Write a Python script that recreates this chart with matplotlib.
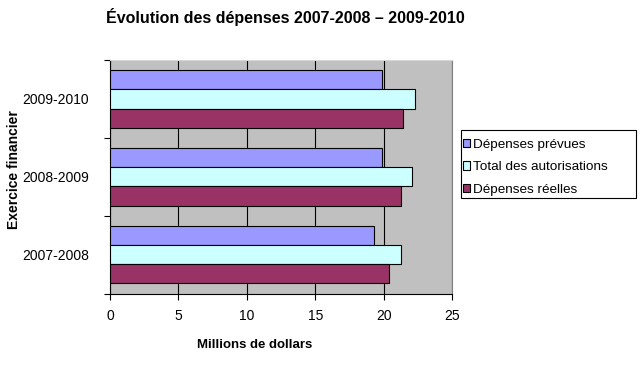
import matplotlib
matplotlib.use("Agg")
import matplotlib.pyplot as plt
from matplotlib.patches import Rectangle
import numpy as np

plt.rcParams['font.family'] = ['Liberation Sans', 'DejaVu Sans']

categories = ["2007-2008", "2008-2009", "2009-2010"]
series_names = ["Dépenses prévues", "Total des autorisations", "Dépenses réelles"]
prevues = [19.3, 19.9, 19.9]
total = [21.3, 22.1, 22.3]
reelles = [20.4, 21.3, 21.4]
colors = ["#9999FF", "#CCFFFF", "#993366"]
x_ticks = [0, 5, 10, 15, 20, 25]

fig = plt.figure(figsize=(6.4, 3.65), dpi=100)
ax = fig.add_axes([110/640, 1-293.5/365, (452-110)/640, (293.5-60)/365])
ax.set_facecolor("#C0C0C0")

y = np.arange(len(categories))
h = 0.247
for i, (vals, c, name) in enumerate(zip([prevues, total, reelles], colors, series_names)):
    offset = (1 - i) * h
    ax.barh(y + offset, vals, height=h, color=c, edgecolor="black", linewidth=0.8,
            label=name, zorder=3)

ax.set_xlim(0, 25)
ax.set_ylim(-0.5, 2.5)
ax.set_xticks(x_ticks)
ax.set_yticks(y)
ax.set_yticklabels(categories, fontsize=10)
ax.set_yticks([-0.5, 0.5, 1.5, 2.5], minor=True)
ax.tick_params(axis='y', which='major', length=0, pad=15)
ax.tick_params(axis='y', which='minor', length=4, direction='out', width=0.8)
ax.tick_params(axis='x', length=4, direction='out', labelsize=10, width=0.8, pad=7)
ax.xaxis.grid(True, color="black", linewidth=0.8, zorder=1)
ax.set_axisbelow(True)

ax.spines['left'].set_color('black')
ax.spines['bottom'].set_color('black')
ax.spines['top'].set_color('#D8D8D8')
ax.spines['right'].set_color('#808080')
for s in ax.spines.values():
    s.set_linewidth(0.8)

fig.text(255/640, 1-345/365, "Millions de dollars", ha='center', va='center',
         fontsize=9.5, fontweight='bold')
fig.text(14/640, 1-170/365, "Exercice financier", ha='center', va='center',
         rotation=90, fontsize=10, fontweight='bold')

fig.text(285/640, 1-17/365, "Évolution des dépenses 2007-2008 – 2009-2010",
         ha='center', va='center', fontsize=11.5, fontweight='bold')

# legend frame
fig.patches.append(Rectangle((461/640, 1-198/365), (636-461)/640, (198-130)/365,
                             transform=fig.transFigure, facecolor='white',
                             edgecolor='black', linewidth=0.8, zorder=0))

handles, labels = ax.get_legend_handles_labels()
leg = fig.legend(handles, labels, loc='upper left', bbox_to_anchor=(463/640, 1-138.5/365),
                 fontsize=9.7, frameon=False,
                 handlelength=0.55, handleheight=0.55, handletextpad=0.2,
                 borderpad=0, labelspacing=0.8, borderaxespad=0)

fig.savefig("out.png", dpi=100)
